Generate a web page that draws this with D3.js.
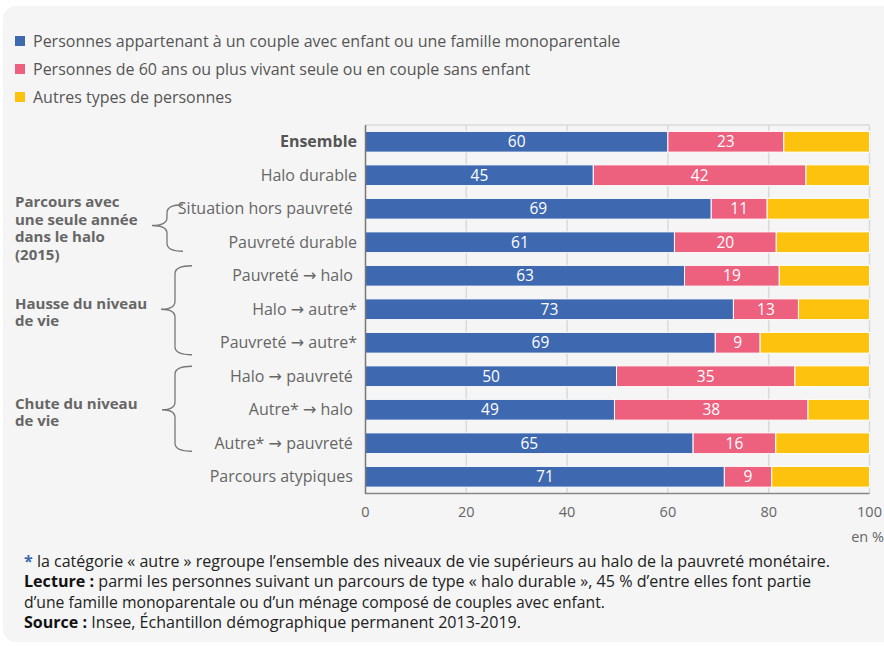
<!DOCTYPE html>
<html>
<head>
<meta charset="utf-8">
<title>Parcours et type de ménage</title>
<script src="https://cdn.jsdelivr.net/npm/d3@7"></script>
<style>
  body { margin: 0; background: #fff; }
  svg text { font-family: "Open Sans", sans-serif; }
</style>
</head>
<body>
<div id="chart"></div>
<script>
// --- data ---
var categories = ["Ensemble", "Halo durable", "Situation hors pauvreté\u00a0", "Pauvreté durable",
  "Pauvreté → halo\u00a0", "Halo → autre*", "Pauvreté → autre*",
  "Halo → pauvreté\u00a0", "Autre* → halo\u00a0", "Autre* → pauvreté\u00a0", "Parcours atypiques\u00a0"];
var couples = [60.0, 45.2, 68.6, 61.3, 63.3, 73.0, 69.4, 49.8, 49.4, 65.0, 71.2];
var seniors = [23.0, 42.2, 11.1, 20.2, 18.8, 12.9, 8.9, 35.4, 38.4, 16.4, 9.4];
var seriesNames = ["Personnes appartenant à un couple avec enfant ou une famille monoparentale",
  "Personnes de 60 ans ou plus vivant seule ou en couple sans enfant",
  "Autres types de personnes"];
var seriesColors = ["#3e69b0", "#ed617f", "#fdc20e"];
var xTicks = [0, 20, 40, 60, 80, 100];
var groups = [
  { lines: ["Parcours avec", "une seule année", "dans le halo", "(2015)"], first: 2, last: 3 },
  { lines: ["Hausse du niveau", "de vie"], first: 4, last: 6 },
  { lines: ["Chute du niveau", "de vie"], first: 7, last: 9 }
];

var W = 884, H = 646;
var svg = d3.select("#chart").append("svg").attr("width", W).attr("height", H);

// panel
svg.append("rect").attr("x", 3).attr("y", 6).attr("width", W + 20).attr("height", 636)
  .attr("rx", 13).attr("fill", "#f5f5f5");

// legend
var leg = svg.append("g").selectAll("g").data(seriesNames).enter().append("g")
  .attr("transform", function(d, i) { return "translate(15," + (41 + i * 28) + ")"; });
leg.append("rect").attr("x", 0).attr("y", -5).attr("width", 10).attr("height", 10)
  .attr("fill", function(d, i) { return seriesColors[i]; });
leg.append("text").attr("x", 18).attr("dy", "0.35em").attr("font-size", 16)
  .attr("fill", "#555").text(function(d) { return d; });

// scales
var x = d3.scaleLinear().domain([0, 100]).range([365.5, 869.5]);
var y = d3.scaleBand().domain(categories).range([125, 493.5]).paddingInner(0.38).paddingOuter(0.19);

var rows = categories.map(function(c, i) {
  var a = couples[i], b = seniors[i];
  return { cat: c, segs: [[0, a, a], [a, a + b, b], [a + b, 100, 100 - a - b]] };
});

// grid + frame
svg.append("g").selectAll("line").data(xTicks.slice(1)).enter().append("line")
  .attr("x1", function(d) { return x(d); }).attr("x2", function(d) { return x(d); })
  .attr("y1", 125).attr("y2", 493.5).attr("stroke", "#dadada").attr("stroke-width", 1.5);
svg.append("line").attr("x1", x(0)).attr("x2", x(100)).attr("y1", 125).attr("y2", 125)
  .attr("stroke", "#dadada").attr("stroke-width", 1.5);

// bars
var rowG = svg.append("g").selectAll("g").data(rows).enter().append("g");
rowG.selectAll("rect").data(function(d) { return d.segs.map(function(s, j) { return { s: s, j: j, cat: d.cat }; }); })
  .enter().append("rect")
  .attr("x", function(d) { return x(d.s[0]); })
  .attr("width", function(d) { return x(d.s[1]) - x(d.s[0]); })
  .attr("y", function(d) { return y(d.cat); })
  .attr("height", y.bandwidth())
  .attr("fill", function(d) { return seriesColors[d.j]; })
  .attr("stroke", "#fff").attr("stroke-width", 1);
rowG.selectAll("text").data(function(d) { return d.segs.slice(0, 2).map(function(s) { return { s: s, cat: d.cat }; }); })
  .enter().append("text")
  .attr("x", function(d) { return (x(d.s[0]) + x(d.s[1])) / 2; })
  .attr("y", function(d) { return y(d.cat) + y.bandwidth() / 2; })
  .attr("dy", "0.36em").attr("text-anchor", "middle").attr("font-size", 15.5).attr("fill", "#fff")
  .text(function(d) { return d3.format(".0f")(d.s[2]); });

// axes
svg.append("line").attr("x1", x(0)).attr("x2", x(0)).attr("y1", 125).attr("y2", 494)
  .attr("stroke", "#777").attr("stroke-width", 1.5);
svg.append("line").attr("x1", x(0)).attr("x2", x(100)).attr("y1", 493.5).attr("y2", 493.5)
  .attr("stroke", "#888").attr("stroke-width", 1.5);
svg.append("g").selectAll("text").data(xTicks).enter().append("text")
  .attr("x", function(d) { return x(d); }).attr("y", 517).attr("text-anchor", "middle")
  .attr("font-size", 14.5).attr("fill", "#666").text(function(d) { return d; });
svg.append("text").attr("x", 884).attr("y", 542).attr("text-anchor", "end")
  .attr("font-size", 14.5).attr("fill", "#666").text("en %");

// category labels (arrow glyph from DejaVu, like the original)
var catText = svg.append("g").selectAll("text").data(categories).enter().append("text")
  .attr("x", 357).attr("y", function(d) { return y(d) + y.bandwidth() / 2; })
  .attr("dy", "0.35em").attr("text-anchor", "end").attr("font-size", 16)
  .attr("font-weight", function(d, i) { return i === 0 ? "bold" : "normal"; })
  .attr("fill", function(d, i) { return i === 0 ? "#555" : "#666"; });
catText.each(function(d) {
  var t = d3.select(this), parts = d.split("→");
  parts.forEach(function(p, k) {
    if (k > 0) t.append("tspan").style("font-family", "'DejaVu Sans'").text("→");
    t.append("tspan").text(p);
  });
});

// groups with braces
var braceDims = [
  { tip: 152, v: 167, end: 183, top: 4, bot: 9 },
  { tip: 161, v: 175, end: 192, top: 10, bot: 12 },
  { tip: 162, v: 175, end: 192, top: 10, bot: 8 }
];
groups.forEach(function(g, i) {
  var c1 = y(categories[g.first]) + y.bandwidth() / 2;
  var c2 = y(categories[g.last]) + y.bandwidth() / 2;
  var mid = (c1 + c2) / 2, b = braceDims[i];
  var t = c1 - b.top, bt = c2 + b.bot, r = 8;
  var p = d3.path();
  p.moveTo(b.end, t);
  p.quadraticCurveTo(b.v, t, b.v, t + r);
  p.lineTo(b.v, mid - r);
  p.quadraticCurveTo(b.v, mid, b.tip, mid);
  p.quadraticCurveTo(b.v, mid, b.v, mid + r);
  p.lineTo(b.v, bt - r);
  p.quadraticCurveTo(b.v, bt, b.end, bt);
  svg.append("path").attr("d", p.toString()).attr("fill", "none")
    .attr("stroke", "#777").attr("stroke-width", 1.3);
  var txt = svg.append("text").attr("font-size", 15).attr("font-weight", "bold").attr("fill", "#666");
  g.lines.forEach(function(l, k) {
    txt.append("tspan").attr("x", 15).attr("y", mid + 8 - (g.lines.length - 1) * 17.4 / 2 + k * 17.4).text(l);
  });
});

// footnotes (condensed look via textLength)
var notes = [
  { parts: [["* ", "bold", "#3e69b0"], ["la catégorie « autre » regroupe l’ensemble des niveaux de vie supérieurs au halo de la pauvreté monétaire.", "normal", "#222"]], len: 806, y: 567 },
  { parts: [["Lecture : ", "bold", "#111"], ["parmi les personnes suivant un parcours de type « halo durable », 45 % d’entre elles font partie", "normal", "#222"]], len: 787, y: 587 },
  { parts: [["d’une famille monoparentale ou d’un ménage composé de couples avec enfant.", "normal", "#222"]], len: 581, y: 608 },
  { parts: [["Source : ", "bold", "#111"], ["Insee, Échantillon démographique permanent 2013-2019.", "normal", "#222"]], len: 497, y: 628 }
];
notes.forEach(function(n) {
  var t = svg.append("text").attr("x", 24).attr("y", n.y).attr("font-size", 15.5)
    .attr("textLength", n.len).attr("lengthAdjust", "spacingAndGlyphs");
  n.parts.forEach(function(pt) {
    t.append("tspan").attr("font-weight", pt[1]).attr("fill", pt[2]).text(pt[0]);
  });
});
</script>
</body>
</html>
